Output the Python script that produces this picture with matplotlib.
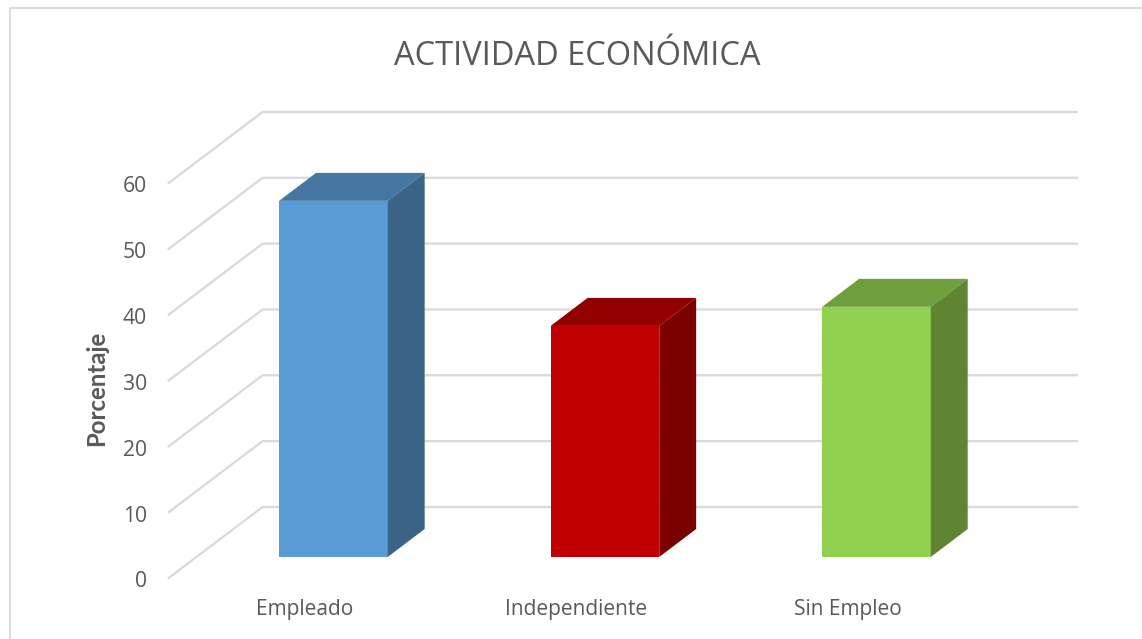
import matplotlib
matplotlib.use("Agg")
import matplotlib.pyplot as plt
from matplotlib.patches import Polygon

categorias = ["Empleado", "Independiente", "Sin Empleo"]
valores = [54.1, 35.1, 38.0]
caras = ["#5B9BD5", "#C00000", "#92D050"]
techos = ["#4676A2", "#920000", "#6F9E3D"]
lados = ["#3A6386", "#7B0000", "#5F8432"]
ticks = [0, 10, 20, 30, 40, 50, 60]

GRIS = "#D9D9D9"
TEXTO = "#595959"
ANCHO = 0.4

# offset of the back wall and of the bar depth, in data units
FONDO_X, FONDO_Y = 0.346, 10.79
PROF_X, PROF_Y = 0.136, 4.25
BASE_Y = 3.19

fig = plt.figure(figsize=(11.42, 6.39), dpi=100)
ax = fig.add_axes([0, 0, 1, 1])
ax.set_xlim(-1.228, 2.978)
ax.set_ylim(-9.27, 87.8)
ax.axis("off")
plt.rcParams["font.family"] = ["Open Sans", "DejaVu Sans"]

# gridlines: oblique piece on the side wall, then along the back wall
x0 = -0.6068
for t in ticks:
    ax.plot([x0, x0 + FONDO_X, 2.738], [t, t + FONDO_Y, t + FONDO_Y],
            color=GRIS, lw=1.6, solid_joinstyle="miter", zorder=1)
    ax.text(-0.686, t - 0.6, str(t), ha="right", va="center", fontsize=15.2, color=TEXTO)

for i, (v, c1, c2, c3) in enumerate(zip(valores, caras, techos, lados)):
    izq, der = i - ANCHO / 2, i + ANCHO / 2
    abajo, arriba = BASE_Y, BASE_Y + v
    ax.add_patch(Polygon([(izq, abajo), (der, abajo), (der, arriba), (izq, arriba)],
                         facecolor=c1, edgecolor="none", zorder=3))
    ax.add_patch(Polygon([(izq, arriba), (der, arriba), (der + PROF_X, arriba + PROF_Y),
                          (izq + PROF_X, arriba + PROF_Y)],
                         facecolor=c2, edgecolor="none", zorder=3))
    ax.add_patch(Polygon([(der, abajo), (der + PROF_X, abajo + PROF_Y),
                          (der + PROF_X, arriba + PROF_Y), (der, arriba)],
                         facecolor=c3, edgecolor="none", zorder=3))
    ax.text(i - 0.105, -4.8, categorias[i], ha="center", va="center",
            fontsize=15, color=TEXTO)

ax.text(0.5052, 0.912, "ACTIVIDAD ECONÓMICA", transform=ax.transAxes, ha="center",
        va="center", fontsize=23.5, color=TEXTO)
ax.text(0.085, 0.392, "Porcentaje", transform=ax.transAxes, rotation=90, ha="center",
        va="center", fontsize=17.3, fontweight="bold", color=TEXTO, family=["Lato", "DejaVu Sans"])

# chart border, left and top only reach the picture edge
ax.plot([9.5 / 1142, 9.5 / 1142, 1142 / 1142], [0, 1 - 7.5 / 639, 1 - 7.5 / 639],
        transform=ax.transAxes, color=GRIS, lw=1.3, solid_joinstyle="miter")

fig.savefig("out.png", dpi=100)
